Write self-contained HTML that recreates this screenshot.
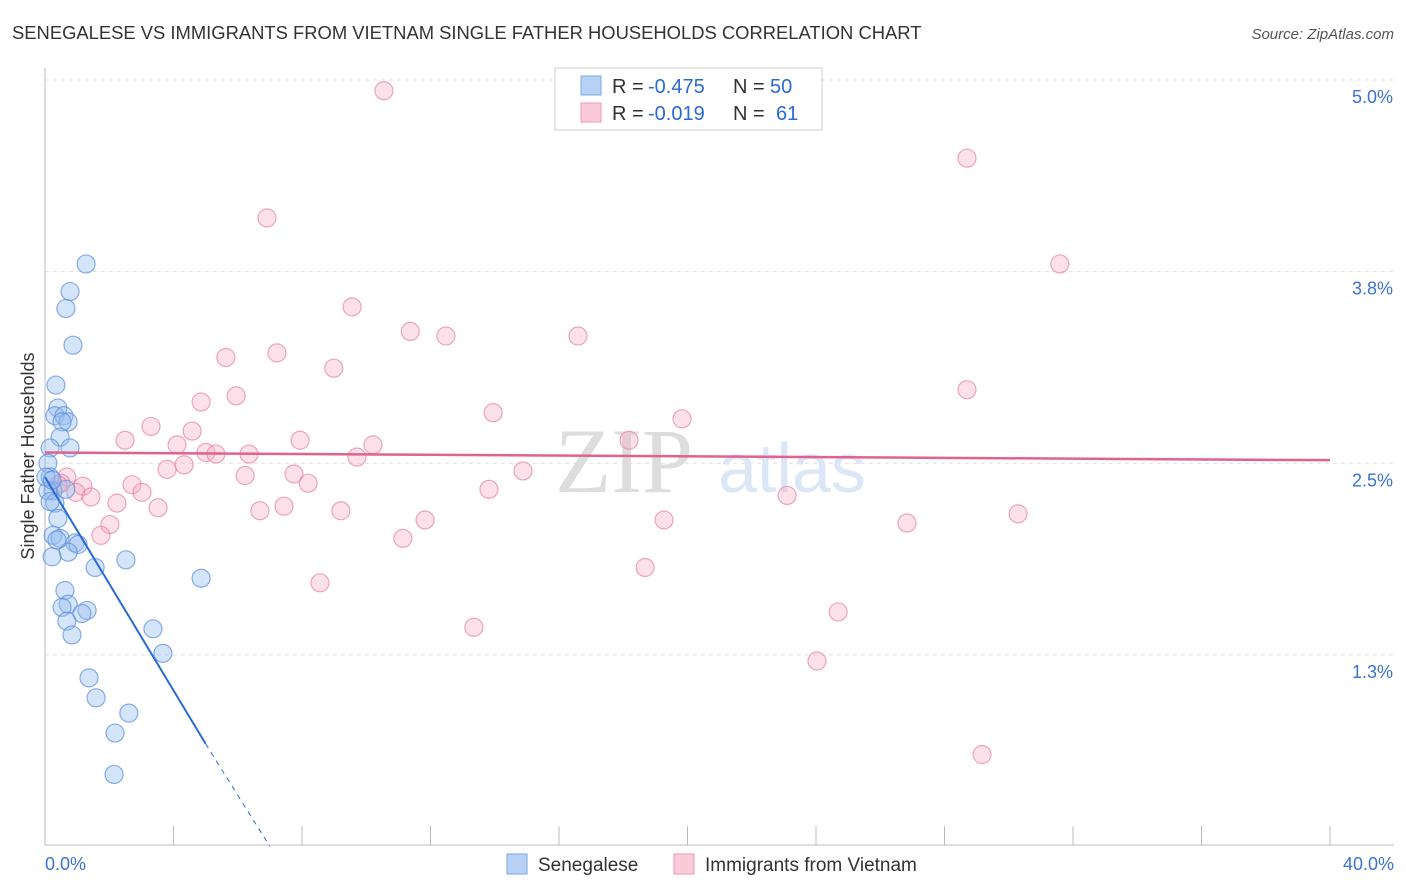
<!DOCTYPE html>
<html><head><meta charset="utf-8"><style>
body{margin:0;background:#fff;font-family:"Liberation Sans",sans-serif}
svg{display:block}
</style></head><body>
<svg id="chart" width="1406" height="892" xmlns="http://www.w3.org/2000/svg">
<text x="12" y="39" font-size="18.4" fill="#333">SENEGALESE VS IMMIGRANTS FROM VIETNAM SINGLE FATHER HOUSEHOLDS CORRELATION CHART</text>
<text x="1394" y="39" font-size="15" fill="#555" font-style="italic" text-anchor="end">Source: ZipAtlas.com</text>
<g id="grid"></g>
<g id="axes"></g>
<text x="555" y="492" font-size="92" fill="#ddd" font-family="Liberation Serif">ZIP</text>
<text x="718" y="492" font-size="70" fill="#dbe6f6">atlas</text>
<g id="marks"></g>
<text transform="translate(34,456) rotate(-90)" font-size="18" fill="#333" text-anchor="middle">Single Father Households</text>
<g>
<rect x="555" y="68" width="267" height="62" fill="#fff" stroke="#ccc"/>
<rect x="581" y="76" width="20" height="19" fill="#b7d2f5" stroke="#7aa7e3"/>
<text x="612" y="93" font-size="20" fill="#333">R =</text>
<text x="648" y="93" font-size="20" fill="#2a6ad4">-0.475</text>
<text x="733" y="93" font-size="20" fill="#333">N =</text>
<text x="770" y="93" font-size="20" fill="#2a6ad4">50</text>
<rect x="581" y="103" width="20" height="19" fill="#fbcad8" stroke="#eb9ab4"/>
<text x="612" y="120" font-size="20" fill="#333">R =</text>
<text x="648" y="120" font-size="20" fill="#2a6ad4">-0.019</text>
<text x="733" y="120" font-size="20" fill="#333">N =</text>
<text x="776" y="120" font-size="20" fill="#2a6ad4">61</text>
</g>
<g>
<rect x="507" y="854" width="20" height="20" fill="#b7d2f5" stroke="#7aa7e3"/>
<text x="538" y="871" font-size="19" fill="#333">Senegalese</text>
<rect x="674" y="854" width="20" height="20" fill="#fbcad8" stroke="#eb9ab4"/>
<text x="705" y="871" font-size="19" fill="#333">Immigrants from Vietnam</text>
</g>
</svg>
<script>
const xTicks=[0,4,8,12,16,20,24,28,32,36,40];
const yTicks=[5.0,3.75,2.5,1.25];
const yTickLabels=["5.0%","3.8%","2.5%","1.3%"];
const senX=[1.28,0.78,0.65,0.87,0.34,0.40,0.31,0.59,0.72,0.53,0.47,0.78,0.16,0.09,0.16,0.25,0.09,0.31,0.40,0.25,0.47,0.93,1.03,0.72,0.22,1.56,2.52,4.86,0.62,0.72,0.53,1.31,1.15,0.68,0.84,3.36,3.67,1.37,1.59,2.61,2.18,2.15,0.03,0.16,0.37,0.65,0.22];
const senY=[3.80,3.62,3.51,3.27,3.01,2.86,2.81,2.81,2.77,2.77,2.67,2.60,2.60,2.50,2.41,2.32,2.32,2.24,2.14,2.03,2.01,1.98,1.97,1.92,1.89,1.82,1.87,1.75,1.67,1.58,1.56,1.54,1.52,1.47,1.38,1.42,1.26,1.10,0.97,0.87,0.74,0.47,2.41,2.25,2.00,2.33,2.39];
const vnX=[10.55,28.70,6.91,31.59,9.56,11.37,12.48,16.59,7.22,5.63,8.99,28.70,5.95,4.86,13.95,19.83,3.30,4.58,2.49,7.94,18.18,4.11,10.21,5.01,5.32,6.35,9.71,4.33,3.80,14.88,6.23,7.75,0.68,0.50,1.18,8.19,2.71,3.02,13.82,0.96,1.43,23.10,2.24,3.52,7.44,6.69,9.21,11.83,19.27,26.83,30.29,2.02,1.74,11.14,18.68,8.56,24.69,13.35,24.03,29.17,0.40];
const vnY=[4.93,4.49,4.10,3.80,3.52,3.36,3.33,3.33,3.22,3.19,3.12,2.98,2.94,2.90,2.83,2.79,2.74,2.71,2.65,2.65,2.65,2.62,2.62,2.57,2.56,2.56,2.54,2.49,2.46,2.45,2.42,2.43,2.41,2.37,2.35,2.37,2.36,2.31,2.33,2.31,2.28,2.29,2.24,2.21,2.22,2.19,2.19,2.13,2.13,2.11,2.17,2.10,2.03,2.01,1.82,1.72,1.53,1.43,1.21,0.60,2.36];
const senTrend=[0,2.41,5.0,0.67];
const senTrendExt=[5.0,0.67,7.0,0.0];
const vnTrend=[0,2.57,40,2.52];
const X=v=>45+v/40*1285, Y=v=>80+(5-v)*153.3;
const NS="http://www.w3.org/2000/svg";
function mk(t,a,p){const e=document.createElementNS(NS,t);for(const k in a)e.setAttribute(k,a[k]);p.appendChild(e);return e;}
const grid=document.getElementById('grid'),axes=document.getElementById('axes'),marks=document.getElementById('marks');
yTicks.forEach((t,i)=>{
const g=mk('line',{x1:45,x2:1394,y1:Y(t),y2:Y(t),stroke:'#ddd','stroke-dasharray':'4,4'},grid);


const l=mk('text',{x:1393,y:Y(t)+23,'font-size':18,fill:'#3b73d1','text-anchor':'end'},axes);
l.textContent=yTickLabels[i];


});
const ax=mk('line',{x1:45,x2:1394,y1:845,y2:845,stroke:'#bbb'},axes);


const ay=mk('line',{x1:45,x2:45,y1:68,y2:845,stroke:'#bbb'},axes);


xTicks.forEach(t=>{
const tk=mk('line',{x1:X(t),x2:X(t),y1:826,y2:845,stroke:'#bbb'},axes);


});
const xl0=mk('text',{x:45,y:870,'font-size':18,fill:'#3b73d1'},axes);xl0.textContent='0.0%';


const xl1=mk('text',{x:1394,y:870,'font-size':18,fill:'#3b73d1','text-anchor':'end'},axes);xl1.textContent='40.0%';


vnX.forEach((x,i)=>{
const c=mk('circle',{cx:X(x),cy:Y(vnY[i]),r:9,fill:'rgba(246,170,195,0.35)',stroke:'rgba(230,130,165,0.7)','stroke-width':1.2},marks);


});
senX.forEach((x,i)=>{
const c=mk('circle',{cx:X(x),cy:Y(senY[i]),r:9,fill:'rgba(150,190,240,0.4)',stroke:'rgba(90,140,220,0.7)','stroke-width':1.2},marks);


});
const t1=mk('line',{x1:X(senTrend[0]),y1:Y(senTrend[1]),x2:X(senTrend[2]),y2:Y(senTrend[3]),stroke:'#2a6ad4','stroke-width':2},marks);


const t2=mk('line',{x1:X(senTrendExt[0]),y1:Y(senTrendExt[1]),x2:X(senTrendExt[2]),y2:Y(senTrendExt[3]),stroke:'#2a6ad4','stroke-width':1,'stroke-dasharray':'5,5'},marks);


const t3=mk('line',{x1:X(vnTrend[0]),y1:Y(vnTrend[1]),x2:X(vnTrend[2]),y2:Y(vnTrend[3]),stroke:'#e0628e','stroke-width':2.5},marks);


</script>
</body></html>
